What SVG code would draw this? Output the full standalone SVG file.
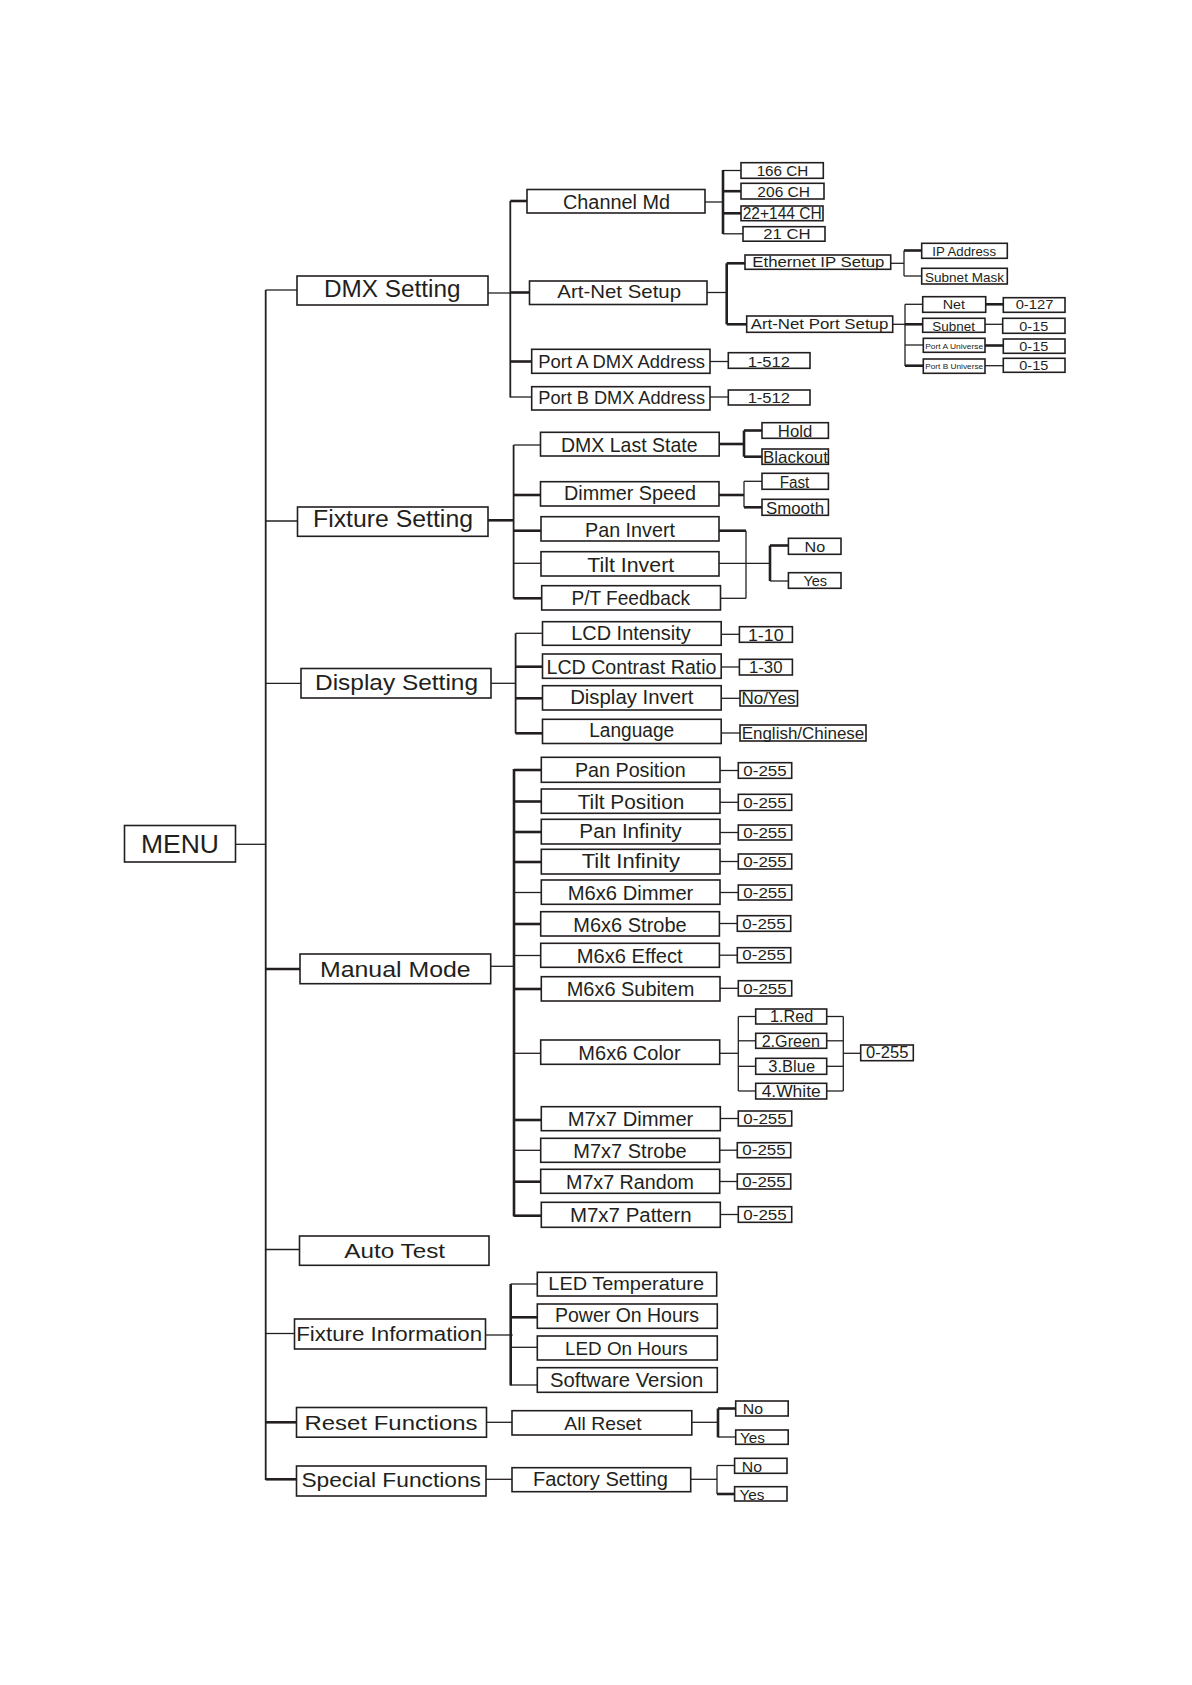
<svg xmlns="http://www.w3.org/2000/svg" width="1192" height="1685" viewBox="0 0 1192 1685">
<style>
.b{fill:#fff;stroke:#231f20;stroke-width:1.6}
.l{stroke:#231f20;stroke-width:1.3;fill:none}
.k{stroke:#231f20;stroke-width:2.6;fill:none}
.v{stroke:#231f20;stroke-width:1.8;fill:none}
text{font-family:"Liberation Sans","DejaVu Sans",sans-serif;fill:#231f20;text-anchor:middle}
</style>
<rect width="1192" height="1685" fill="#fff"/>
<g id="connectors">
<line class="v" x1="265.7" y1="290" x2="265.7" y2="1480"/>
<line class="l" x1="235.5" y1="844.3" x2="265.7" y2="844.3"/>
<line class="l" x1="265.7" y1="290" x2="297" y2="290"/>
<line class="l" x1="265.7" y1="521" x2="297.5" y2="521"/>
<line class="l" x1="265.7" y1="683.3" x2="301" y2="683.3"/>
<line class="k" x1="265.7" y1="969" x2="300" y2="969"/>
<line class="l" x1="265.7" y1="1249.5" x2="299.5" y2="1249.5"/>
<line class="l" x1="265.7" y1="1333.5" x2="294.5" y2="1333.5"/>
<line class="k" x1="265.7" y1="1422.3" x2="296.5" y2="1422.3"/>
<line class="k" x1="265.7" y1="1479.3" x2="296.5" y2="1479.3"/>
<!-- DMX -->
<line class="l" x1="488" y1="293" x2="510.3" y2="293"/>
<line class="v" x1="510.3" y1="201" x2="510.3" y2="397.5"/>
<line class="k" x1="510.3" y1="201" x2="527" y2="201"/>
<line class="k" x1="510.3" y1="292.5" x2="529.5" y2="292.5"/>
<line class="k" x1="510.3" y1="361.5" x2="531.7" y2="361.5"/>
<line class="l" x1="510.3" y1="397" x2="531.7" y2="397"/>
<line class="l" x1="705" y1="202" x2="723" y2="202"/>
<line class="k" x1="723" y1="170" x2="723" y2="234"/>
<line class="l" x1="723" y1="170.5" x2="741" y2="170.5"/>
<line class="k" x1="723" y1="191.2" x2="741" y2="191.2"/>
<line class="k" x1="723" y1="213.3" x2="741" y2="213.3"/>
<line class="l" x1="723" y1="233.8" x2="743" y2="233.8"/>
<line class="l" x1="707" y1="292.5" x2="726.7" y2="292.5"/>
<line class="k" x1="726.7" y1="263.3" x2="726.7" y2="324.3"/>
<line class="k" x1="726.7" y1="263.3" x2="745" y2="263.3"/>
<line class="k" x1="726.7" y1="324.3" x2="746.7" y2="324.3"/>
<line class="l" x1="890.7" y1="263.3" x2="904" y2="263.3"/>
<line class="l" x1="904" y1="250.5" x2="904" y2="276"/>
<line class="k" x1="904" y1="250.5" x2="921.7" y2="250.5"/>
<line class="l" x1="904" y1="276" x2="921.7" y2="276"/>
<line class="l" x1="892.7" y1="324.3" x2="905" y2="324.3"/>
<line class="k" x1="905" y1="324.3" x2="922.7" y2="324.3"/>
<line class="l" x1="905" y1="304.3" x2="905" y2="366"/>
<line class="l" x1="905" y1="304.3" x2="922.7" y2="304.3"/>
<line class="l" x1="905" y1="345" x2="923.3" y2="345"/>
<line class="k" x1="905" y1="365.7" x2="923.3" y2="365.7"/>
<line class="k" x1="985.7" y1="304.3" x2="1003.3" y2="304.3"/>
<line class="l" x1="985" y1="324.3" x2="1002.7" y2="324.3"/>
<line class="k" x1="985" y1="345.5" x2="1003.3" y2="345.5"/>
<line class="l" x1="985" y1="365.7" x2="1003.3" y2="365.7"/>
<line class="l" x1="710" y1="361.5" x2="728.3" y2="361.5"/>
<line class="l" x1="710" y1="397" x2="728.3" y2="397"/>
<!-- Fixture -->
<line class="k" x1="488" y1="520.3" x2="513.6" y2="520.3"/>
<line class="v" x1="513.6" y1="445" x2="513.6" y2="598.5"/>
<line class="l" x1="513.6" y1="445" x2="540.5" y2="445"/>
<line class="k" x1="513.6" y1="495" x2="540.5" y2="495"/>
<line class="k" x1="513.6" y1="530.7" x2="541" y2="530.7"/>
<line class="l" x1="513.6" y1="563.3" x2="541" y2="563.3"/>
<line class="k" x1="513.6" y1="598.3" x2="541.7" y2="598.3"/>
<line class="k" x1="719.2" y1="444" x2="744" y2="444"/>
<line class="k" x1="744" y1="430.5" x2="744" y2="456.7"/>
<line class="k" x1="744" y1="430.5" x2="762" y2="430.5"/>
<line class="k" x1="744" y1="456.7" x2="762" y2="456.7"/>
<line class="k" x1="719" y1="495" x2="744" y2="495"/>
<line class="l" x1="744" y1="481.3" x2="744" y2="507.3"/>
<line class="l" x1="744" y1="481.3" x2="762" y2="481.3"/>
<line class="k" x1="744" y1="507.3" x2="762" y2="507.3"/>
<line class="k" x1="719" y1="530.7" x2="746" y2="530.7"/>
<line class="l" x1="746" y1="530.7" x2="746" y2="598.3"/>
<line class="l" x1="720.5" y1="598.3" x2="746" y2="598.3"/>
<line class="l" x1="719" y1="563.3" x2="770" y2="563.3"/>
<line class="k" x1="770" y1="545.5" x2="770" y2="581"/>
<line class="k" x1="770" y1="545.5" x2="788.4" y2="545.5"/>
<line class="l" x1="770" y1="581" x2="788.4" y2="581"/>
<!-- Display -->
<line class="l" x1="491" y1="683.3" x2="515.6" y2="683.3"/>
<line class="v" x1="515.6" y1="633.3" x2="515.6" y2="733.5"/>
<line class="l" x1="515.6" y1="633.3" x2="542.5" y2="633.3"/>
<line class="k" x1="515.6" y1="666.7" x2="542.5" y2="666.7"/>
<line class="k" x1="515.6" y1="698.3" x2="542.5" y2="698.3"/>
<line class="k" x1="515.6" y1="733.3" x2="542.5" y2="733.3"/>
<line class="l" x1="721.2" y1="634.3" x2="739.4" y2="634.3"/>
<line class="l" x1="721.2" y1="667" x2="739.4" y2="667"/>
<line class="l" x1="721.2" y1="698.3" x2="740" y2="698.3"/>
<line class="l" x1="721.2" y1="733" x2="740" y2="733"/>
<!-- Manual -->
<line class="l" x1="490.7" y1="966.3" x2="514" y2="966.3"/>
<line class="k" x1="514" y1="769" x2="514" y2="1216.5"/>
<line class="k" x1="514" y1="770" x2="541.3" y2="770"/>
<line class="k" x1="514" y1="801.5" x2="541.3" y2="801.5"/>
<line class="k" x1="514" y1="832" x2="541.3" y2="832"/>
<line class="k" x1="514" y1="862" x2="541.3" y2="862"/>
<line class="l" x1="514" y1="892.5" x2="541.3" y2="892.5"/>
<line class="k" x1="514" y1="924" x2="541.3" y2="924"/>
<line class="l" x1="514" y1="955.5" x2="541.3" y2="955.5"/>
<line class="k" x1="514" y1="989" x2="541.3" y2="989"/>
<line class="l" x1="514" y1="1053.3" x2="541.3" y2="1053.3"/>
<line class="k" x1="514" y1="1120" x2="541.3" y2="1120"/>
<line class="l" x1="514" y1="1150.3" x2="541.3" y2="1150.3"/>
<line class="k" x1="514" y1="1181.7" x2="541.3" y2="1181.7"/>
<line class="k" x1="514" y1="1215.7" x2="541.3" y2="1215.7"/>
<line class="l" x1="720" y1="770.5" x2="738.3" y2="770.5"/>
<line class="l" x1="720" y1="802.3" x2="738.3" y2="802.3"/>
<line class="l" x1="720" y1="832.5" x2="738.3" y2="832.5"/>
<line class="l" x1="720" y1="861.5" x2="738.3" y2="861.5"/>
<line class="l" x1="720" y1="892.5" x2="738.3" y2="892.5"/>
<line class="l" x1="720" y1="923.5" x2="738.3" y2="923.5"/>
<line class="l" x1="720" y1="955.2" x2="738.3" y2="955.2"/>
<line class="l" x1="720" y1="988.3" x2="738.3" y2="988.3"/>
<line class="l" x1="720" y1="1118.5" x2="738.3" y2="1118.5"/>
<line class="l" x1="720" y1="1150.2" x2="738.3" y2="1150.2"/>
<line class="l" x1="720" y1="1181.5" x2="738.3" y2="1181.5"/>
<line class="l" x1="720" y1="1214.5" x2="738.3" y2="1214.5"/>
<line class="l" x1="719.7" y1="1053.3" x2="738.3" y2="1053.3"/>
<line class="l" x1="738.3" y1="1016.5" x2="738.3" y2="1091"/>
<line class="l" x1="738.3" y1="1016.5" x2="755.7" y2="1016.5"/>
<line class="l" x1="738.3" y1="1040.8" x2="755.7" y2="1040.8"/>
<line class="l" x1="738.3" y1="1066.3" x2="755.7" y2="1066.3"/>
<line class="l" x1="738.3" y1="1091" x2="755.7" y2="1091"/>
<line class="l" x1="826.7" y1="1016.5" x2="843.3" y2="1016.5"/>
<line class="l" x1="826.7" y1="1040.8" x2="843.3" y2="1040.8"/>
<line class="l" x1="826.7" y1="1066.3" x2="843.3" y2="1066.3"/>
<line class="l" x1="826.7" y1="1091" x2="843.3" y2="1091"/>
<line class="l" x1="843.3" y1="1016.5" x2="843.3" y2="1091"/>
<line class="l" x1="843.3" y1="1053.3" x2="860.7" y2="1053.3"/>
<!-- Fixture information -->
<line class="l" x1="485.7" y1="1335" x2="512.7" y2="1335"/>
<line class="k" x1="510.7" y1="1284" x2="510.7" y2="1385.5"/>
<line class="l" x1="510.7" y1="1284" x2="537.3" y2="1284"/>
<line class="k" x1="510.7" y1="1317.3" x2="537.3" y2="1317.3"/>
<line class="l" x1="510.7" y1="1347.3" x2="537.3" y2="1347.3"/>
<line class="l" x1="510.7" y1="1385" x2="537.3" y2="1385"/>
<!-- Reset / Special -->
<line class="l" x1="486.5" y1="1422.3" x2="512" y2="1422.3"/>
<line class="l" x1="691.8" y1="1422.3" x2="718" y2="1422.3"/>
<line class="k" x1="718" y1="1408.5" x2="718" y2="1437.3"/>
<line class="k" x1="718" y1="1408.5" x2="735.7" y2="1408.5"/>
<line class="l" x1="718" y1="1437" x2="735.7" y2="1437"/>
<line class="l" x1="486" y1="1479.3" x2="512" y2="1479.3"/>
<line class="l" x1="690.7" y1="1479.3" x2="717" y2="1479.3"/>
<line class="l" x1="717" y1="1465.5" x2="717" y2="1494"/>
<line class="l" x1="717" y1="1465.5" x2="734.6" y2="1465.5"/>
<line class="k" x1="717" y1="1494" x2="734.6" y2="1494"/>
</g>

<g id="n-menu"><rect class="b" x="124.5" y="825.5" width="111" height="36.5"/><text x="180" y="852.7" font-size="25.5" textLength="78" lengthAdjust="spacingAndGlyphs">MENU</text></g>

<g id="n-dmx-setting"><rect class="b" x="297" y="276" width="191" height="29"/><text x="392.2" y="296.7" font-size="23" textLength="136.6" lengthAdjust="spacingAndGlyphs">DMX Setting</text></g>
<g id="n-channel-md"><rect class="b" x="527" y="189.5" width="178" height="23.5"/><text x="616.5" y="209.3" font-size="20" textLength="107" lengthAdjust="spacingAndGlyphs">Channel Md</text></g>
<g id="n-166ch"><rect class="b" x="741" y="162.7" width="82.3" height="15.6"/><text x="782.5" y="175.5" font-size="14" textLength="51.7" lengthAdjust="spacingAndGlyphs">166 CH</text></g>
<g id="n-206ch"><rect class="b" x="741" y="183.3" width="83" height="15.7"/><text x="783.7" y="196.7" font-size="14.5" textLength="52.7" lengthAdjust="spacingAndGlyphs">206 CH</text></g>
<g id="n-22144ch"><rect class="b" x="741" y="206" width="82" height="14.7"/><text x="782.2" y="219" font-size="16" textLength="79" lengthAdjust="spacingAndGlyphs">22+144 CH</text></g>
<g id="n-21ch"><rect class="b" x="743" y="226.7" width="82" height="14.5"/><text x="787" y="239.3" font-size="15" textLength="47.3" lengthAdjust="spacingAndGlyphs">21 CH</text></g>
<g id="n-artnet-setup"><rect class="b" x="529.5" y="281" width="177.5" height="23.5"/><text x="619.2" y="298.3" font-size="19" textLength="123.7" lengthAdjust="spacingAndGlyphs">Art-Net Setup</text></g>
<g id="n-ethernet-ip"><rect class="b" x="745" y="255" width="145.7" height="14.3"/><text x="818.3" y="267.3" font-size="14.5" textLength="132" lengthAdjust="spacingAndGlyphs">Ethernet IP Setup</text></g>
<g id="n-ip-address"><rect class="b" x="921.7" y="243.3" width="85.6" height="15"/><text x="964.2" y="255.7" font-size="12.5" textLength="63.7" lengthAdjust="spacingAndGlyphs">IP Address</text></g>
<g id="n-subnet-mask"><rect class="b" x="921.7" y="268.3" width="85.6" height="15.7"/><text x="964.5" y="281.7" font-size="13.5" textLength="79" lengthAdjust="spacingAndGlyphs">Subnet Mask</text></g>
<g id="n-artnet-port"><rect class="b" x="746.7" y="316" width="146" height="16.3"/><text x="819.5" y="329" font-size="15" textLength="137.7" lengthAdjust="spacingAndGlyphs">Art-Net Port Setup</text></g>
<g id="n-net"><rect class="b" x="922.7" y="296.7" width="63" height="15.6"/><text x="953.8" y="309" font-size="12.5" textLength="22.3" lengthAdjust="spacingAndGlyphs">Net</text></g>
<g id="n-subnet"><rect class="b" x="922.7" y="318.3" width="62.3" height="14"/><text x="953.7" y="330.7" font-size="13.5" textLength="42.7" lengthAdjust="spacingAndGlyphs">Subnet</text></g>
<g id="n-porta-universe"><rect class="b" x="923.3" y="338.3" width="61.7" height="14"/><text x="954.2" y="348.5" font-size="7.5" textLength="58" lengthAdjust="spacingAndGlyphs">Port A Universe</text></g>
<g id="n-portb-universe"><rect class="b" x="923.3" y="359" width="61.7" height="14.3"/><text x="954.2" y="369" font-size="7.5" textLength="58" lengthAdjust="spacingAndGlyphs">Port B Universe</text></g>
<g id="n-net-val"><rect class="b" x="1003.3" y="297.7" width="61.7" height="14.6"/><text x="1034.5" y="309.3" font-size="12.5" textLength="37.7" lengthAdjust="spacingAndGlyphs">0-127</text></g>
<g id="n-subnet-val"><rect class="b" x="1002.7" y="318.3" width="62.3" height="15"/><text x="1033.8" y="330.7" font-size="13.5" textLength="29" lengthAdjust="spacingAndGlyphs">0-15</text></g>
<g id="n-porta-univ-val"><rect class="b" x="1003.3" y="339" width="61.7" height="14.3"/><text x="1033.8" y="350.5" font-size="13.5" textLength="29" lengthAdjust="spacingAndGlyphs">0-15</text></g>
<g id="n-portb-univ-val"><rect class="b" x="1003.3" y="358.3" width="61.7" height="14"/><text x="1033.8" y="370" font-size="13.5" textLength="29" lengthAdjust="spacingAndGlyphs">0-15</text></g>
<g id="n-porta-dmx"><rect class="b" x="531.7" y="349.3" width="178.3" height="24"/><text x="621.7" y="368.3" font-size="17.5" textLength="166.7" lengthAdjust="spacingAndGlyphs">Port A DMX Address</text></g>
<g id="n-portb-dmx"><rect class="b" x="531.7" y="386.7" width="178.3" height="23.3"/><text x="621.7" y="403.5" font-size="17.5" textLength="166.7" lengthAdjust="spacingAndGlyphs">Port B DMX Address</text></g>
<g id="n-porta-val"><rect class="b" x="728.3" y="352.7" width="81.7" height="15.6"/><text x="768.8" y="366.7" font-size="14" textLength="42.3" lengthAdjust="spacingAndGlyphs">1-512</text></g>
<g id="n-portb-val"><rect class="b" x="728.3" y="390" width="81.7" height="15"/><text x="768.8" y="402.7" font-size="14" textLength="42.3" lengthAdjust="spacingAndGlyphs">1-512</text></g>

<g id="n-fixture-setting"><rect class="b" x="297.5" y="507" width="190.5" height="29.3"/><text x="393" y="527.3" font-size="23" textLength="160" lengthAdjust="spacingAndGlyphs">Fixture Setting</text></g>
<g id="n-dmx-last-state"><rect class="b" x="540.5" y="432.3" width="178.7" height="23.7"/><text x="629.3" y="451.7" font-size="21" textLength="136.5" lengthAdjust="spacingAndGlyphs">DMX Last State</text></g>
<g id="n-hold"><rect class="b" x="762" y="422.7" width="66.4" height="15.6"/><text x="795" y="436.7" font-size="16" textLength="34.4" lengthAdjust="spacingAndGlyphs">Hold</text></g>
<g id="n-blackout"><rect class="b" x="762" y="449" width="66.4" height="15.3"/><text x="795.5" y="462.7" font-size="16.5" textLength="65" lengthAdjust="spacingAndGlyphs">Blackout</text></g>
<g id="n-dimmer-speed"><rect class="b" x="540.5" y="481.7" width="178.5" height="24.3"/><text x="630" y="500" font-size="21" textLength="132" lengthAdjust="spacingAndGlyphs">Dimmer Speed</text></g>
<g id="n-fast"><rect class="b" x="762" y="473.3" width="66.4" height="16"/><text x="794.5" y="487.7" font-size="16" textLength="29.7" lengthAdjust="spacingAndGlyphs">Fast</text></g>
<g id="n-smooth"><rect class="b" x="762" y="499.3" width="66.4" height="16"/><text x="795" y="513.5" font-size="16.5" textLength="58" lengthAdjust="spacingAndGlyphs">Smooth</text></g>
<g id="n-pan-invert"><rect class="b" x="541" y="516.7" width="178" height="24.3"/><text x="630" y="536.7" font-size="21" textLength="90" lengthAdjust="spacingAndGlyphs">Pan Invert</text></g>
<g id="n-tilt-invert"><rect class="b" x="541" y="551.7" width="178" height="24.3"/><text x="630.7" y="571.7" font-size="21" textLength="87" lengthAdjust="spacingAndGlyphs">Tilt Invert</text></g>
<g id="n-pt-feedback"><rect class="b" x="541.7" y="585.7" width="178.8" height="24.3"/><text x="630.7" y="605" font-size="21" textLength="118.6" lengthAdjust="spacingAndGlyphs">P/T Feedback</text></g>
<g id="n-invert-no"><rect class="b" x="788.4" y="538.3" width="52.6" height="16"/><text x="814.9" y="551.7" font-size="15.5" textLength="20.6" lengthAdjust="spacingAndGlyphs">No</text></g>
<g id="n-invert-yes"><rect class="b" x="788.4" y="572.7" width="52.6" height="15.6"/><text x="815.3" y="585.5" font-size="15.5" textLength="23.7" lengthAdjust="spacingAndGlyphs">Yes</text></g>

<g id="n-display-setting"><rect class="b" x="301" y="668.5" width="190" height="29.5"/><text x="396.5" y="690" font-size="22.5" textLength="163" lengthAdjust="spacingAndGlyphs">Display Setting</text></g>
<g id="n-lcd-intensity"><rect class="b" x="542.5" y="621.7" width="178.7" height="23.6"/><text x="631" y="640" font-size="21" textLength="119.4" lengthAdjust="spacingAndGlyphs">LCD Intensity</text></g>
<g id="n-lcd-contrast"><rect class="b" x="542.5" y="654" width="178.7" height="24.3"/><text x="631.5" y="674" font-size="20.5" textLength="170" lengthAdjust="spacingAndGlyphs">LCD Contrast Ratio</text></g>
<g id="n-display-invert"><rect class="b" x="542.5" y="685.7" width="178.7" height="24.3"/><text x="631.8" y="704" font-size="20.5" textLength="123.3" lengthAdjust="spacingAndGlyphs">Display Invert</text></g>
<g id="n-language"><rect class="b" x="542.5" y="719.3" width="178.7" height="24.2"/><text x="631.7" y="736.7" font-size="19.5" textLength="85" lengthAdjust="spacingAndGlyphs">Language</text></g>
<g id="n-lcd-int-val"><rect class="b" x="739.4" y="626.7" width="53" height="15.6"/><text x="765.8" y="640.5" font-size="17" textLength="35.7" lengthAdjust="spacingAndGlyphs">1-10</text></g>
<g id="n-lcd-con-val"><rect class="b" x="739.4" y="659.3" width="53" height="15.7"/><text x="765.7" y="673.3" font-size="16" textLength="33.6" lengthAdjust="spacingAndGlyphs">1-30</text></g>
<g id="n-disp-inv-val"><rect class="b" x="740" y="690.7" width="57.5" height="15.3"/><text x="768.5" y="704" font-size="17" textLength="54.2" lengthAdjust="spacingAndGlyphs">No/Yes</text></g>
<g id="n-lang-val"><rect class="b" x="740" y="725" width="126" height="16"/><text x="803" y="739" font-size="16.5" textLength="122.6" lengthAdjust="spacingAndGlyphs">English/Chinese</text></g>

<g id="n-manual-mode"><rect class="b" x="300" y="954" width="190.7" height="29.7"/><text x="395.3" y="977.3" font-size="22" textLength="150.7" lengthAdjust="spacingAndGlyphs">Manual Mode</text></g>
<g id="n-pan-position"><rect class="b" x="541.3" y="757.3" width="178.7" height="25"/><text x="630.3" y="777.3" font-size="20.5" textLength="110.7" lengthAdjust="spacingAndGlyphs">Pan Position</text></g>
<g id="n-tilt-position"><rect class="b" x="541.3" y="789" width="178.7" height="24.3"/><text x="631" y="809.3" font-size="20.5" textLength="106.7" lengthAdjust="spacingAndGlyphs">Tilt Position</text></g>
<g id="n-pan-infinity"><rect class="b" x="541.3" y="819.3" width="178.7" height="24.7"/><text x="630.5" y="838.3" font-size="20" textLength="102.3" lengthAdjust="spacingAndGlyphs">Pan Infinity</text></g>
<g id="n-tilt-infinity"><rect class="b" x="541.3" y="849.3" width="178.7" height="24.7"/><text x="630.8" y="868.3" font-size="20" textLength="98.3" lengthAdjust="spacingAndGlyphs">Tilt Infinity</text></g>
<g id="n-m6-dimmer"><rect class="b" x="541.3" y="880" width="178.7" height="24.3"/><text x="630.5" y="900" font-size="20" textLength="125.7" lengthAdjust="spacingAndGlyphs">M6x6 Dimmer</text></g>
<g id="n-m6-strobe"><rect class="b" x="540.7" y="911.7" width="178.7" height="24.3"/><text x="630" y="931.7" font-size="20.5" textLength="113.3" lengthAdjust="spacingAndGlyphs">M6x6 Strobe</text></g>
<g id="n-m6-effect"><rect class="b" x="540.7" y="943.3" width="178.7" height="24"/><text x="629.7" y="963.3" font-size="20.5" textLength="106" lengthAdjust="spacingAndGlyphs">M6x6 Effect</text></g>
<g id="n-m6-subitem"><rect class="b" x="541.3" y="976.7" width="178.7" height="24.3"/><text x="630.5" y="995.7" font-size="20.5" textLength="127.7" lengthAdjust="spacingAndGlyphs">M6x6 Subitem</text></g>
<g id="n-m6-color"><rect class="b" x="540.7" y="1040" width="179" height="24.3"/><text x="629.5" y="1060" font-size="20.5" textLength="102.3" lengthAdjust="spacingAndGlyphs">M6x6 Color</text></g>
<g id="n-m7-dimmer"><rect class="b" x="541.3" y="1106.7" width="179" height="24"/><text x="630.5" y="1125.7" font-size="20" textLength="125.7" lengthAdjust="spacingAndGlyphs">M7x7 Dimmer</text></g>
<g id="n-m7-strobe"><rect class="b" x="540.7" y="1138.3" width="179" height="24"/><text x="630" y="1157.7" font-size="20" textLength="113.3" lengthAdjust="spacingAndGlyphs">M7x7 Strobe</text></g>
<g id="n-m7-random"><rect class="b" x="540.7" y="1169.3" width="179" height="24"/><text x="630" y="1189.3" font-size="20" textLength="128" lengthAdjust="spacingAndGlyphs">M7x7 Random</text></g>
<g id="n-m7-pattern"><rect class="b" x="541.3" y="1202.3" width="179" height="25"/><text x="630.8" y="1222.3" font-size="20.5" textLength="121.7" lengthAdjust="spacingAndGlyphs">M7x7 Pattern</text></g>
<g id="n-v-pan-pos"><rect class="b" x="738.3" y="762.7" width="53.4" height="15.6"/><text x="765" y="776" font-size="15.5" textLength="43.3" lengthAdjust="spacingAndGlyphs">0-255</text></g>
<g id="n-v-tilt-pos"><rect class="b" x="738.3" y="794.3" width="53.4" height="16"/><text x="765" y="808" font-size="15.5" textLength="43.3" lengthAdjust="spacingAndGlyphs">0-255</text></g>
<g id="n-v-pan-inf"><rect class="b" x="738.3" y="825" width="53.4" height="15"/><text x="765" y="837.7" font-size="15.5" textLength="43.3" lengthAdjust="spacingAndGlyphs">0-255</text></g>
<g id="n-v-tilt-inf"><rect class="b" x="738.3" y="854" width="53.4" height="15"/><text x="765" y="866.7" font-size="15.5" textLength="43.3" lengthAdjust="spacingAndGlyphs">0-255</text></g>
<g id="n-v-m6-dimmer"><rect class="b" x="738.3" y="885" width="53.4" height="15"/><text x="765" y="897.7" font-size="15.5" textLength="43.3" lengthAdjust="spacingAndGlyphs">0-255</text></g>
<g id="n-v-m6-strobe"><rect class="b" x="737.3" y="915.7" width="53.4" height="15.6"/><text x="764" y="929" font-size="15.5" textLength="43.3" lengthAdjust="spacingAndGlyphs">0-255</text></g>
<g id="n-v-m6-effect"><rect class="b" x="737.3" y="947.7" width="53.4" height="15"/><text x="764" y="960.4" font-size="15.5" textLength="43.3" lengthAdjust="spacingAndGlyphs">0-255</text></g>
<g id="n-v-m6-subitem"><rect class="b" x="738.3" y="980.7" width="53.4" height="15.3"/><text x="765" y="993.7" font-size="15.5" textLength="43.3" lengthAdjust="spacingAndGlyphs">0-255</text></g>
<g id="n-red"><rect class="b" x="755.7" y="1009" width="71" height="15"/><text x="791.7" y="1022.3" font-size="16" textLength="43.3" lengthAdjust="spacingAndGlyphs">1.Red</text></g>
<g id="n-green"><rect class="b" x="755.7" y="1033.3" width="71" height="15"/><text x="790.8" y="1047.3" font-size="16" textLength="58.3" lengthAdjust="spacingAndGlyphs">2.Green</text></g>
<g id="n-blue"><rect class="b" x="755.7" y="1058.3" width="71" height="16"/><text x="791.7" y="1072.3" font-size="16" textLength="46.7" lengthAdjust="spacingAndGlyphs">3.Blue</text></g>
<g id="n-white"><rect class="b" x="755.7" y="1083.3" width="71" height="15.7"/><text x="791.2" y="1097.3" font-size="16" textLength="59" lengthAdjust="spacingAndGlyphs">4.White</text></g>
<g id="n-v-color"><rect class="b" x="860.7" y="1045" width="52.6" height="15.7"/><text x="887.2" y="1058.3" font-size="16" textLength="42.3" lengthAdjust="spacingAndGlyphs">0-255</text></g>
<g id="n-v-m7-dimmer"><rect class="b" x="738.3" y="1111" width="53.4" height="15"/><text x="765" y="1123.7" font-size="15.5" textLength="43.3" lengthAdjust="spacingAndGlyphs">0-255</text></g>
<g id="n-v-m7-strobe"><rect class="b" x="737.3" y="1142.7" width="53.4" height="15"/><text x="764" y="1155.4" font-size="15.5" textLength="43.3" lengthAdjust="spacingAndGlyphs">0-255</text></g>
<g id="n-v-m7-random"><rect class="b" x="737.3" y="1174" width="53.4" height="15"/><text x="764" y="1186.7" font-size="15.5" textLength="43.3" lengthAdjust="spacingAndGlyphs">0-255</text></g>
<g id="n-v-m7-pattern"><rect class="b" x="738.3" y="1206.7" width="53.4" height="15.6"/><text x="765" y="1220" font-size="15.5" textLength="43.3" lengthAdjust="spacingAndGlyphs">0-255</text></g>

<g id="n-auto-test"><rect class="b" x="299.5" y="1236" width="189.5" height="29.3"/><text x="394.7" y="1258.3" font-size="21" textLength="100.7" lengthAdjust="spacingAndGlyphs">Auto Test</text></g>

<g id="n-fixture-information"><rect class="b" x="294.5" y="1319" width="191" height="30"/><text x="389.2" y="1341" font-size="20.5" textLength="186" lengthAdjust="spacingAndGlyphs">Fixture Information</text></g>
<g id="n-led-temperature"><rect class="b" x="537.3" y="1272.3" width="179.4" height="23.7"/><text x="626.2" y="1290" font-size="19" textLength="155.7" lengthAdjust="spacingAndGlyphs">LED Temperature</text></g>
<g id="n-power-on-hours"><rect class="b" x="537.3" y="1304" width="180" height="24.3"/><text x="627" y="1322.3" font-size="19.5" textLength="144" lengthAdjust="spacingAndGlyphs">Power On Hours</text></g>
<g id="n-led-on-hours"><rect class="b" x="537.3" y="1336" width="180" height="24"/><text x="626.3" y="1355" font-size="19" textLength="122.7" lengthAdjust="spacingAndGlyphs">LED On Hours</text></g>
<g id="n-software-version"><rect class="b" x="537.3" y="1367.7" width="180" height="24.6"/><text x="626.7" y="1387.3" font-size="19.5" textLength="153.3" lengthAdjust="spacingAndGlyphs">Software Version</text></g>

<g id="n-reset-functions"><rect class="b" x="296.5" y="1407.5" width="190" height="29.7"/><text x="391" y="1430" font-size="21" textLength="173" lengthAdjust="spacingAndGlyphs">Reset Functions</text></g>
<g id="n-all-reset"><rect class="b" x="512" y="1410.7" width="179.8" height="24.3"/><text x="603" y="1430" font-size="18.5" textLength="77.5" lengthAdjust="spacingAndGlyphs">All Reset</text></g>
<g id="n-reset-no"><rect class="b" x="735.7" y="1401" width="52.5" height="15"/><text x="753" y="1414" font-size="15.5" textLength="20.3" lengthAdjust="spacingAndGlyphs">No</text></g>
<g id="n-reset-yes"><rect class="b" x="735.7" y="1430" width="52.5" height="14.3"/><text x="752.5" y="1442.7" font-size="15.5" textLength="25" lengthAdjust="spacingAndGlyphs">Yes</text></g>

<g id="n-special-functions"><rect class="b" x="296.5" y="1466" width="189.5" height="30"/><text x="391.2" y="1486.7" font-size="21" textLength="179.6" lengthAdjust="spacingAndGlyphs">Special Functions</text></g>
<g id="n-factory-setting"><rect class="b" x="512" y="1467.7" width="178.7" height="24"/><text x="600.4" y="1486" font-size="20.5" textLength="135" lengthAdjust="spacingAndGlyphs">Factory Setting</text></g>
<g id="n-factory-no"><rect class="b" x="734.6" y="1458.3" width="52.4" height="15"/><text x="752" y="1471.7" font-size="15.5" textLength="20.3" lengthAdjust="spacingAndGlyphs">No</text></g>
<g id="n-factory-yes"><rect class="b" x="734.6" y="1486.7" width="52.4" height="14.3"/><text x="752" y="1499.5" font-size="15.5" textLength="25" lengthAdjust="spacingAndGlyphs">Yes</text></g>
</svg>
